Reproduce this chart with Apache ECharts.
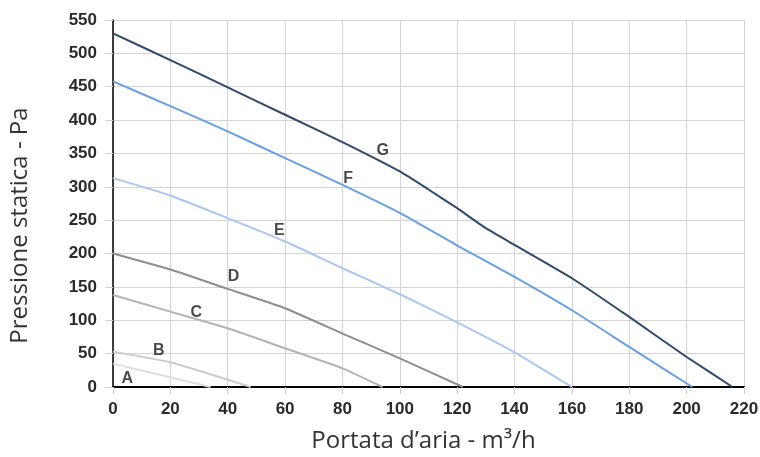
<!DOCTYPE html>
<html><head><meta charset="utf-8">
<script src="https://cdn.jsdelivr.net/npm/echarts@6/dist/echarts.min.js"></script>
<style>html,body{margin:0;padding:0;background:#fff}#c{width:760px;height:457px}</style>
</head><body><div id="c"></div>
<script>
// Curve data: [portata m3/h, pressione Pa]
var curveA = [[0,35],[34,0]];
var curveB = [[0,53],[20,37],[48,0]];
var curveC = [[0,138],[20,113],[40,88],[60,58],[80,28],[94,0]];
var curveD = [[0,200],[20,176],[40,147],[60,118],[80,80],[100,43],[122,0]];
var curveE = [[0,313],[20,287],[40,253],[60,218],[80,178],[100,139],[120,97],[140,52],[160,0]];
var curveF = [[0,458],[20,421],[40,383],[60,343],[80,303],[100,261],[120,212],[140,165],[160,115],[180,60],[202,0]];
var curveG = [[0,530],[20,490],[40,449],[60,408],[80,367],[100,323],[110,296],[120,268],[130,238],[140,213],[160,163],[180,105],[200,45],[216,0]];
var curveNames = ['A','B','C','D','E','F','G'];
var labelPos = [[5,13],[16,55],[29,112],[42,165],[58,234],[82,313],[94,355]];
var xTicks = {min:0,max:220,interval:20};
var yTicks = {min:0,max:550,interval:50};

var curves = [curveA,curveB,curveC,curveD,curveE,curveF,curveG];
var colors = ['#dedede','#cbcbcb','#b3b3b3','#8e8e8e','#a9c8ee','#6a9fe0','#2f4a69'];

var series = curves.map(function(d,i){
  return {type:'line',name:curveNames[i],data:d,showSymbol:false,smooth:0.15,
    lineStyle:{color:colors[i],width:2},z:3,silent:true};
});
series.push({type:'scatter',data:labelPos.map(function(p,i){return {value:p,name:curveNames[i]};}),
  symbolSize:0,z:5,silent:true,
  label:{show:true,position:'inside',formatter:function(p){return p.name;},
    fontFamily:'Liberation Sans',fontWeight:'bold',fontSize:16,color:'#1a1a1a'}});

var chart = echarts.init(document.getElementById('c'),null,{renderer:'canvas'});
chart.setOption({
  animation:false,
  grid:{left:113,right:16,top:20,bottom:70,containLabel:false,outerBoundsMode:'none'},
  xAxis:{type:'value',min:xTicks.min,max:xTicks.max,interval:xTicks.interval,
    name:'Portata d\u2019aria - m\u00b3/h',nameLocation:'middle',nameGap:42,
    nameTextStyle:{fontFamily:'Open Sans',fontSize:24,color:'#333',padding:[0,10,0,0]},
    axisLine:{show:true,onZero:false,lineStyle:{color:'#000',width:2}},
    axisTick:{show:true,length:7,lineStyle:{color:'#cfcfcf'}},
    axisLabel:{margin:14,fontFamily:'Liberation Sans',fontWeight:'bold',fontSize:17,color:'#2a2a2a'},
    splitLine:{show:true,lineStyle:{color:'#d4d4d4',width:1}}},
  yAxis:{type:'value',min:yTicks.min,max:yTicks.max,interval:yTicks.interval,
    name:'Pressione statica - Pa',nameLocation:'middle',nameGap:81,nameRotate:90,
    nameTextStyle:{fontFamily:'Open Sans',fontSize:24,color:'#333',padding:[0,44,0,0]},
    axisLine:{show:true,lineStyle:{color:'#000',width:1.5}},
    axisTick:{show:true,length:8,lineStyle:{color:'#cfcfcf'}},
    axisLabel:{margin:16,fontFamily:'Liberation Sans',fontWeight:'bold',fontSize:17,color:'#2a2a2a'},
    splitLine:{show:true,lineStyle:{color:'#d4d4d4',width:1}}},
  series:series
});
</script></body></html>
